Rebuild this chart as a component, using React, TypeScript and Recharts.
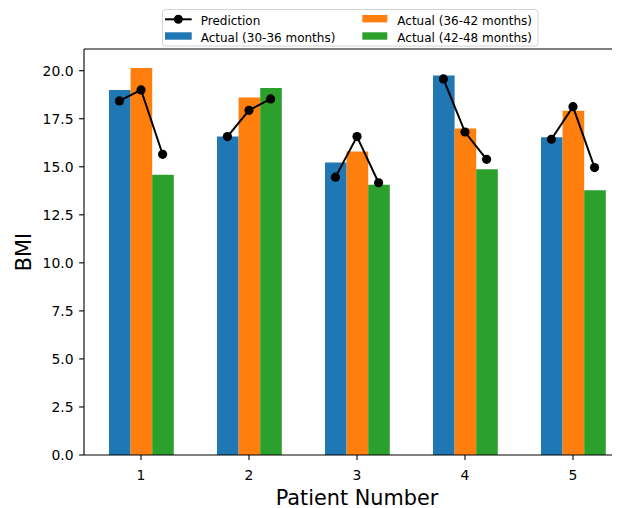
import React from 'react';
import { ComposedChart, Bar, Scatter, XAxis, YAxis, ReferenceLine } from 'recharts';

const patients = ['1', '2', '3', '4', '5'];
const actual30to36 = [19.0, 16.57, 15.22, 19.75, 16.54];
const actual36to42 = [20.14, 18.6, 15.79, 16.99, 17.91];
const actual42to48 = [14.58, 19.1, 14.07, 14.87, 13.78];
const predicted30to36 = [18.43, 16.57, 14.46, 19.57, 16.43];
const predicted36to42 = [19.0, 17.94, 16.57, 16.81, 18.13];
const predicted42to48 = [15.65, 18.53, 14.17, 15.39, 14.96];
const yTicks = [0, 2.5, 5, 7.5, 10, 12.5, 15, 17.5, 20];
const seriesNames = ['Prediction', 'Actual (30-36 months)', 'Actual (36-42 months)', 'Actual (42-48 months)'];

const COLORS = { a: '#1f77b4', b: '#ff7f0e', c: '#2ca02c' };
const Y_MAX = 21.13;
const X_MIN = 0.472;
const X_MAX = 5.528;
const BAR_OFFSET = 0.2;
const FONT = 'DejaVu Sans, sans-serif';

const barData = patients.map((p, i) => ({
  patient: p,
  a: actual30to36[i],
  b: actual36to42[i],
  c: actual42to48[i],
}));

const predictionGroups = patients.map((p, i) => [
  { x: i + 1 - BAR_OFFSET, y: predicted30to36[i] },
  { x: i + 1, y: predicted36to42[i] },
  { x: i + 1 + BAR_OFFSET, y: predicted42to48[i] },
]);

const Dot = (props: any) => {
  const { cx, cy } = props;
  if (cx == null || cy == null) return null;
  return <circle cx={cx} cy={cy} r={4.6} fill="#000" />;
};

const YLabel = (props: any) => {
  const vb = props.viewBox || {};
  const cx = vb.x + 16;
  const cy = vb.y + vb.height / 2;
  return (
    <text
      x={cx}
      y={cy}
      transform={`rotate(-90 ${cx} ${cy})`}
      textAnchor="middle"
      dominantBaseline="central"
      fontSize={20.8}
      fontFamily={FONT}
      fill="#000"
    >
      BMI
    </text>
  );
};

const XLabel = (props: any) => {
  const vb = props.viewBox || {};
  return (
    <text
      x={vb.x + vb.width / 2}
      y={vb.y + 50}
      textAnchor="middle"
      fontSize={20.8}
      fontFamily={FONT}
      fill="#000"
    >
      Patient Number
    </text>
  );
};

const LegendBox = () => (
  <svg
    width={377}
    height={38}
    style={{ position: 'absolute', left: 154, top: 1, overflow: 'visible' }}
  >
    <rect x={0.5} y={0.5} width={375.5} height={36.5} rx={3} fill="#fff" fillOpacity={0.8} stroke="#d4d4d4" strokeWidth={1} />
    <line x1={3} x2={29.7} y1={10.3} y2={10.3} stroke="#000" strokeWidth={2} />
    <circle cx={16.35} cy={10.3} r={4.5} fill="#000" />
    <text x={38.7} y={16} fontSize={12} fontFamily={FONT} fill="#000">{seriesNames[0]}</text>
    <rect x={3} y={23.3} width={26.7} height={7.4} fill={COLORS.a} />
    <text x={38.7} y={33.3} fontSize={12} fontFamily={FONT} fill="#000">{seriesNames[1]}</text>
    <rect x={200.3} y={6} width={25} height={7.4} fill={COLORS.b} />
    <text x={235.3} y={16} fontSize={12} fontFamily={FONT} fill="#000">{seriesNames[2]}</text>
    <rect x={200.3} y={23.3} width={25} height={7.4} fill={COLORS.c} />
    <text x={235.3} y={33.3} fontSize={12} fontFamily={FONT} fill="#000">{seriesNames[3]}</text>
  </svg>
);

export default function App() {
  const tickStyle = { fontSize: 13.9, fill: '#000', fontFamily: FONT };
  return (
    <div style={{ position: 'relative', width: 612, height: 500, overflow: 'hidden', fontFamily: FONT, background: '#fff' }}>
      <ComposedChart
        width={640}
        height={500}
        data={barData}
        margin={{ top: 41, right: 18, bottom: 0, left: 0 }}
        barGap={0}
      >
        <XAxis
          dataKey="patient"
          type="category"
          padding={{ left: 3, right: 3 }}
          height={53}
          tick={tickStyle}
          tickSize={4.9}
          tickMargin={10}
          axisLine={{ stroke: '#000', strokeWidth: 1.1 }}
          tickLine={{ stroke: '#000', strokeWidth: 1.1 }}
          label={<XLabel />}
        />
        <XAxis
          xAxisId="num"
          dataKey="x"
          type="number"
          domain={[X_MIN, X_MAX]}
          allowDataOverflow
          hide
        />
        <YAxis
          type="number"
          domain={[0, Y_MAX]}
          allowDataOverflow
          ticks={yTicks}
          interval={0}
          width={76}
          tick={tickStyle}
          tickSize={4.9}
          tickMargin={5.6}
          tickFormatter={(v: number) => v.toFixed(1)}
          axisLine={{ stroke: '#000', strokeWidth: 1.1 }}
          tickLine={{ stroke: '#000', strokeWidth: 1.1 }}
          label={<YLabel />}
        />
        <ReferenceLine y={Y_MAX} stroke="#000" strokeWidth={1.1} />
        <Bar dataKey="a" name={seriesNames[1]} fill={COLORS.a} barSize={21.6} isAnimationActive={false} />
        <Bar dataKey="b" name={seriesNames[2]} fill={COLORS.b} barSize={21.6} isAnimationActive={false} />
        <Bar dataKey="c" name={seriesNames[3]} fill={COLORS.c} barSize={21.6} isAnimationActive={false} />
        {predictionGroups.map((group, i) => (
          <Scatter
            key={`pred-${i}`}
            name={seriesNames[0]}
            data={group}
            dataKey="y"
            xAxisId="num"
            line={{ stroke: '#000', strokeWidth: 2 }}
            lineJointType="linear"
            shape={<Dot />}
            isAnimationActive={false}
          />
        ))}
      </ComposedChart>
      <LegendBox />
    </div>
  );
}
